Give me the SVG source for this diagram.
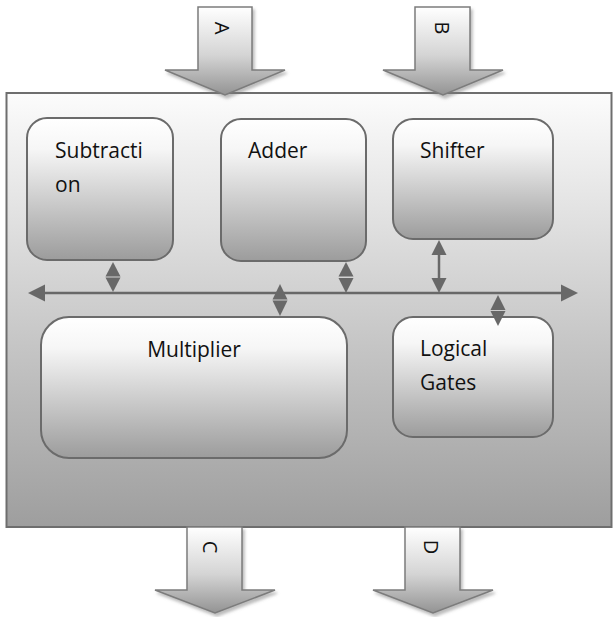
<svg xmlns="http://www.w3.org/2000/svg" width="613" height="617" viewBox="0 0 613 617">
  <defs>
    <linearGradient id="panelFill" x1="0" y1="0" x2="0" y2="1">
      <stop offset="0" stop-color="#fcfcfc"/>
      <stop offset="1" stop-color="#9e9e9e"/>
    </linearGradient>
    <linearGradient id="boxFill" x1="0" y1="0" x2="0" y2="1">
      <stop offset="0" stop-color="#ffffff"/>
      <stop offset="0.22" stop-color="#f6f6f6"/>
      <stop offset="1" stop-color="#9c9c9c"/>
    </linearGradient>
    <linearGradient id="arrowFill" x1="0" y1="0" x2="0" y2="1">
      <stop offset="0" stop-color="#ffffff"/>
      <stop offset="0.55" stop-color="#d4d4d4"/>
      <stop offset="1" stop-color="#939393"/>
    </linearGradient>
    <filter id="soft" x="-20%" y="-20%" width="150%" height="150%">
      <feDropShadow dx="2" dy="3" stdDeviation="1.5" flood-color="#7a7a7a" flood-opacity="0.5"/>
    </filter>
  </defs>
  <style>
    .panel { fill: url(#panelFill); stroke: #6e6e6e; stroke-width: 2; }
    .box { fill: url(#boxFill); stroke: #6b6b6b; stroke-width: 2; }
    .io { fill: url(#arrowFill); stroke: #7c7c7c; stroke-width: 1.5; filter: url(#soft); }
    .lbl { font-family: "Open Sans", "Liberation Sans", sans-serif; font-size: 21px; fill: #111; }
    .io-lbl { font-family: "Open Sans", "Liberation Sans", sans-serif; font-size: 20px; fill: #111; text-anchor: middle; dominant-baseline: central; }
    .bus { stroke: #686868; stroke-width: 2.5; fill: none; }
    .head { fill: #686868; }
  </style>

  <!-- outer ALU panel -->
  <rect id="panel" class="panel" x="6.5" y="93" width="605" height="434"/>

  <!-- inputs -->
  <g id="inA">
    <polygon class="io" points="198,7 252,7 252,70 285,70 225,95 165,70 198,70"/>
    <text class="io-lbl" transform="translate(222,28) rotate(90)">A</text>
  </g>
  <g id="inB">
    <polygon class="io" points="415,7 470,7 470,70 503,70 443,95 383,70 415,70"/>
    <text class="io-lbl" transform="translate(442,28) rotate(90)">B</text>
  </g>

  <!-- outputs -->
  <g id="outC">
    <polygon class="io" points="187,527 242,527 242,590 275,590 215,613 155,590 187,590"/>
    <text class="io-lbl" transform="translate(210,547) rotate(90)">C</text>
  </g>
  <g id="outD">
    <polygon class="io" points="405,527 460,527 460,590 493,590 433,613 373,590 405,590"/>
    <text class="io-lbl" transform="translate(431,547) rotate(90)">D</text>
  </g>

  <!-- functional units -->
  <g id="subtraction">
    <rect class="box" x="27" y="118" width="146" height="142" rx="20"/>
    <text class="lbl" x="55" y="158">Subtracti</text>
    <text class="lbl" x="55" y="192">on</text>
  </g>
  <g id="adder">
    <rect class="box" x="221" y="119" width="145" height="142" rx="20"/>
    <text class="lbl" x="248" y="158">Adder</text>
  </g>
  <g id="shifter">
    <rect class="box" x="393" y="119" width="160" height="120" rx="20"/>
    <text class="lbl" x="420" y="158">Shifter</text>
  </g>
  <g id="multiplier">
    <rect class="box" x="41" y="317" width="306" height="141" rx="28"/>
    <text class="lbl" x="194" y="357" text-anchor="middle">Multiplier</text>
  </g>
  <g id="logical">
    <rect class="box" x="393" y="317" width="160" height="120" rx="20"/>
    <text class="lbl" x="420" y="356">Logical</text>
    <text class="lbl" x="420" y="390">Gates</text>
  </g>

  <!-- internal bus and unit links -->
  <g id="connectors">
    <line class="bus" x1="42" y1="293" x2="565" y2="293"/>
    <polygon class="head" points="28,293 45,284.5 45,301.5"/>
    <polygon class="head" points="578,293 561,284.5 561,301.5"/>

    <!-- subtraction <-> bus -->
    <polygon class="head" points="113,262 120.5,276.5 105.5,276.5"/>
    <polygon class="head" points="113,292 120.5,277.5 105.5,277.5"/>
    <!-- adder <-> bus -->
    <polygon class="head" points="346,262 353.5,276.5 338.5,276.5"/>
    <polygon class="head" points="346,293 353.5,278 338.5,278"/>
    <!-- multiplier <-> bus -->
    <polygon class="head" points="280,284 287.5,299.5 272.5,299.5"/>
    <polygon class="head" points="280,316 287.5,300.5 272.5,300.5"/>
    <!-- logical gates <-> bus -->
    <polygon class="head" points="498,295 505.5,310 490.5,310"/>
    <polygon class="head" points="498,326 505.5,311 490.5,311"/>
    <!-- shifter <-> bus -->
    <line class="bus" x1="439" y1="252" x2="439" y2="281"/>
    <polygon class="head" points="439,240 446.5,255 431.5,255"/>
    <polygon class="head" points="439,293 446.5,278 431.5,278"/>
  </g>
</svg>
